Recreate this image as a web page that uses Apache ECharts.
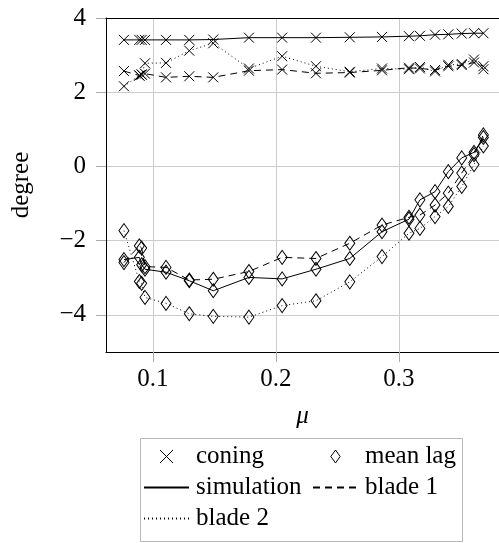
<!DOCTYPE html>
<html>
<head>
<meta charset="utf-8">
<script src="https://cdn.jsdelivr.net/npm/echarts@6/dist/echarts.min.js"></script>
<style>
  html, body { margin: 0; padding: 0; background: #fff; }
  #chart { width: 499px; height: 543px; }
</style>
</head>
<body>
<div id="chart"></div>
<script>
// Advance ratio values shared by all curves
const mu = [0.0764, 0.0889, 0.0908, 0.0935, 0.1106, 0.1295, 0.149, 0.178, 0.205, 0.2325,
            0.260, 0.2862, 0.3081, 0.317, 0.3293, 0.3401, 0.351, 0.361, 0.3686];

// Coning angle [degree]
const coningSimulation = [3.41, 3.41, 3.41, 3.41, 3.41, 3.41, 3.42, 3.47, 3.47, 3.47,
                          3.48, 3.49, 3.51, 3.52, 3.55, 3.56, 3.58, 3.59, 3.59];
const coningBlade1 = [2.57, 2.45, 2.48, 2.50, 2.40, 2.43, 2.40, 2.58, 2.61, 2.51,
                      2.53, 2.59, 2.66, 2.64, 2.60, 2.70, 2.73, 2.80, 2.70];
const coningBlade2 = [2.16, 2.45, 2.47, 2.78, 2.79, 3.12, 3.32, 2.64, 2.97, 2.70,
                      2.55, 2.64, 2.62, 2.68, 2.56, 2.74, 2.76, 2.88, 2.62];

// Mean lag angle [degree]
const lagSimulation = [-2.51, -2.45, -2.65, -2.77, -2.85, -3.08, -3.35, -2.99, -3.03, -2.77,
                       -2.48, -1.76, -1.42, -0.90, -0.68, -0.14, 0.23, 0.38, 0.78];
const lagBlade1 = [-2.59, -2.14, -2.20, -2.70, -2.72, -3.06, -3.04, -2.83, -2.45, -2.48,
                   -2.07, -1.58, -1.37, -1.31, -1.04, -0.72, -0.18, 0.32, 0.85];
const lagBlade2 = [-1.73, -3.10, -3.15, -3.53, -3.69, -3.97, -4.04, -4.06, -3.75, -3.62,
                   -3.11, -2.43, -1.80, -1.67, -1.35, -1.08, -0.54, 0.05, 0.55];

// Tick positions
const xTicks = [0.1, 0.2, 0.3];
const yTicks = [-4, -2, 0, 2, 4];

// Legend columns
const legendColumn1 = ['coning', 'simulation', 'blade 2'];
const legendColumn2 = ['mean lag', 'blade 1'];

const FONT = 'Liberation Serif';
const CROSS = 'path://M0,0L10,10M10,0L0,10';
const DIAMOND = 'path://M5,0L10,7L5,14L0,7Z';
const DASH = { simulation: 'solid', blade1: [7, 5], blade2: [1, 3] };

function curve(name, values, dash, symbol, size) {
  return {
    type: 'line',
    name: name,
    data: mu.map((m, i) => [m, values[i]]),
    symbol: symbol,
    symbolSize: size,
    showSymbol: true,
    showAllSymbol: true,
    lineStyle: { color: '#000', width: 1, type: dash },
    itemStyle: { color: 'rgba(0,0,0,0)', borderColor: '#000', borderWidth: 1 },
    emphasis: { disabled: true },
    z: 3
  };
}

// Entries that only feed the legend
function legendEntry(name, dash) {
  return {
    type: 'line', name: name, data: [], symbol: 'none',
    lineStyle: { color: '#000', width: 1, type: dash || 'solid' },
    itemStyle: { color: '#000' }
  };
}

const hollow = { color: 'rgba(0,0,0,0)', borderColor: '#000', borderWidth: 1 };
const legendIcons = {
  'coning': { icon: 'path://M0,0L13,13M13,0L0,13', itemStyle: hollow },
  'mean lag': { icon: DIAMOND, itemStyle: hollow },
  'simulation': { itemStyle: { opacity: 0 } },
  'blade 1': { itemStyle: { opacity: 0 } },
  'blade 2': { itemStyle: { opacity: 0 } }
};

const labelFont = { fontFamily: FONT, fontSize: 25, color: '#000' };

function legendColumn(names, left) {
  return {
    left: left, top: 436,
    orient: 'vertical',
    itemWidth: 45, itemHeight: 13, itemGap: 6,
    padding: [8, 5, 6, 5],
    selectedMode: false,
    textStyle: Object.assign({ padding: [0, 0, 0, 2] }, labelFont),
    data: names.map(n => Object.assign({ name: n }, legendIcons[n]))
  };
}

const chart = echarts.init(document.getElementById('chart'), null, { renderer: 'canvas' });

chart.setOption({
  animation: false,
  backgroundColor: '#fff',
  grid: { left: 106, top: 18, width: 393, height: 334, containLabel: false, outerBoundsMode: 'none' },
  xAxis: [{
    type: 'value',
    min: 0.0618, max: 0.3813,
    name: 'μ',
    nameLocation: 'middle',
    nameGap: 52,
    nameTextStyle: { fontFamily: FONT, fontStyle: 'italic', fontSize: 25, color: '#000' },
    axisLine: { show: true, onZero: false, lineStyle: { color: '#000', width: 1 } },
    axisTick: { show: true, inside: false, length: 10, customValues: xTicks, lineStyle: { color: '#aaa' } },
    axisLabel: Object.assign({ customValues: xTicks, margin: 15 }, labelFont),
    splitLine: { show: true, lineStyle: { color: '#cccccc', width: 1 } }
  }, {
    type: 'value', position: 'top', min: 0.0618, max: 0.3813, z: 5,
    axisLine: { show: true, onZero: false, lineStyle: { color: '#000', width: 1 } },
    axisTick: { show: false }, axisLabel: { show: false }, splitLine: { show: false }
  }],
  yAxis: [{
    type: 'value',
    min: -5, max: 4,
    name: 'degree',
    nameLocation: 'middle',
    nameGap: 72,
    nameRotate: 90,
    nameTextStyle: labelFont,
    axisLine: { show: true, onZero: false, lineStyle: { color: '#000', width: 1 } },
    axisTick: { show: true, inside: false, length: 10, customValues: yTicks, lineStyle: { color: '#aaa' } },
    axisLabel: Object.assign({
      customValues: yTicks, margin: 20,
      formatter: v => (v < 0 ? '\u2212' + Math.abs(v) : String(v))
    }, labelFont),
    splitLine: { show: true, lineStyle: { color: '#cccccc', width: 1 } }
  }],
  legend: [legendColumn(legendColumn1, 138), legendColumn(legendColumn2, 307)],
  // frame around both legend columns
  graphic: [{
    type: 'rect', left: 138, top: 436, silent: true,
    shape: { width: 322, height: 103 },
    style: { fill: 'none', stroke: '#b8b8b8', lineWidth: 1 }
  }],
  series: [
    legendEntry('coning'),
    legendEntry('mean lag'),
    legendEntry('simulation', DASH.simulation),
    legendEntry('blade 1', DASH.blade1),
    legendEntry('blade 2', DASH.blade2),
    curve('coning simulation', coningSimulation, DASH.simulation, CROSS, 10),
    curve('coning blade 1', coningBlade1, DASH.blade1, CROSS, 10),
    curve('coning blade 2', coningBlade2, DASH.blade2, CROSS, 10),
    curve('mean lag simulation', lagSimulation, DASH.simulation, DIAMOND, [10, 14]),
    curve('mean lag blade 1', lagBlade1, DASH.blade1, DIAMOND, [10, 14]),
    curve('mean lag blade 2', lagBlade2, DASH.blade2, DIAMOND, [10, 14])
  ]
});
</script>
</body>
</html>
